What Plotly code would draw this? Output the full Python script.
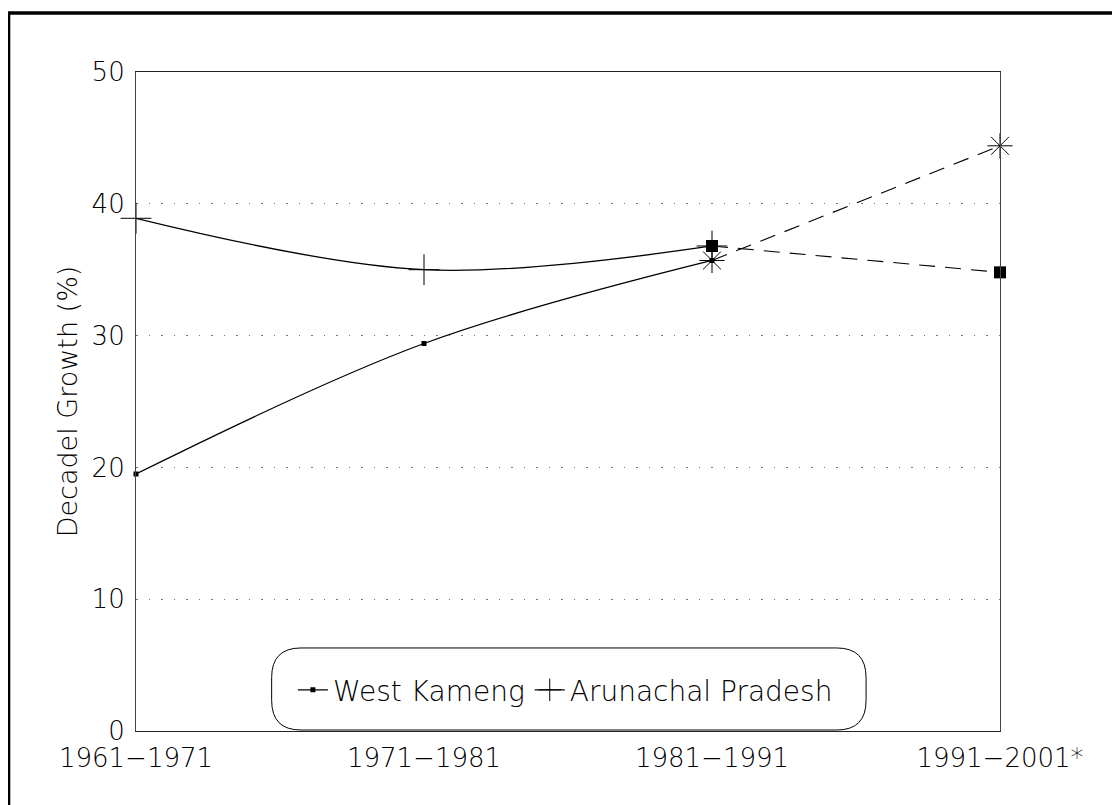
import plotly.graph_objects as go

periods = ["1961\u22121971", "1971\u22121981", "1981\u22121991", "1991\u22122001*"]
west_kameng = [19.5, 29.4, 35.7]
arunachal = [38.9, 35.0, 36.8]
west_kameng_proj = [35.7, 44.4]
arunachal_proj = [36.8, 34.8]
yticks = [0, 10, 20, 30, 40, 50]

FONT = "DejaVu Sans"
W = 200
TXT = "#000000"
fig = go.Figure()

fig.add_trace(go.Scatter(
    x=periods[2:], y=west_kameng_proj, mode="lines+markers", showlegend=False, cliponaxis=False,
    line=dict(color="black", width=1.1, dash="16px,10px"),
    marker=dict(symbol="asterisk-open", size=21, line=dict(color="black", width=1))))
fig.add_trace(go.Scatter(
    x=periods[2:], y=arunachal_proj, mode="lines+markers", showlegend=False, cliponaxis=False,
    line=dict(color="black", width=1.1, dash="16px,10px"),
    marker=dict(symbol="square", size=12, color="black")))
fig.add_trace(go.Scatter(
    x=periods[:3], y=west_kameng, mode="lines+markers", name="West Kameng", cliponaxis=False,
    line=dict(color="black", width=1.3, shape="spline", smoothing=1),
    marker=dict(symbol="square", size=5, color="black")))
fig.add_trace(go.Scatter(
    x=periods[:3], y=arunachal, mode="lines+markers", name="Arunachal Pradesh", cliponaxis=False,
    line=dict(color="black", width=1.3, shape="spline", smoothing=1),
    marker=dict(symbol="cross-thin-open", size=22, line=dict(color="black", width=1))))

# rounded legend box (paper coords)
x0, x1, y0, y1 = 0.157, 0.845, 0.0015, 0.126
rx, ry = 0.034, 0.045
path = (f"M {x0+rx},{y0} L {x1-rx},{y0} Q {x1},{y0} {x1},{y0+ry} "
        f"L {x1},{y1-ry} Q {x1},{y1} {x1-rx},{y1} L {x0+rx},{y1} "
        f"Q {x0},{y1} {x0},{y1-ry} L {x0},{y0+ry} Q {x0},{y0} {x0+rx},{y0} Z")
fig.add_shape(type="path", path=path, xref="paper", yref="paper",
              line=dict(color="black", width=1), fillcolor="white", layer="below")
# outer frame (top + left visible)
fig.add_shape(type="rect", xref="paper", yref="paper",
              x0=-0.1475, x1=1.5, y0=-0.5, y1=1.0895,
              line=dict(color="black", width=3.5), layer="below")

fig.update_layout(
    width=1120, height=805,
    margin=dict(l=128, r=128, t=64, b=82),
    paper_bgcolor="white", plot_bgcolor="rgba(0,0,0,0)",
    font=dict(family=FONT, color=TXT, weight=W),
    legend=dict(orientation="h", x=0.497, y=0.062, xanchor="center", yanchor="middle",
                font=dict(size=28, family=FONT, color=TXT, weight=W), bgcolor="rgba(0,0,0,0)",
                itemwidth=30, tracegroupgap=0),
    xaxis=dict(type="category", categoryorder="array", categoryarray=periods,
               range=[0, 3], showgrid=False, showline=True, linecolor="#222", linewidth=1.2,
               mirror=True, ticks="", tickfont=dict(size=26, family=FONT, color=TXT, weight=W),
               ticklabelstandoff=4, zeroline=False),
    yaxis=dict(range=[0, 50], tickvals=yticks, showline=True, linecolor="#444",
               linewidth=1.2, mirror=True, ticks="", ticklabelstandoff=5,
               tickfont=dict(size=26, family=FONT, color=TXT, weight=W),
               showgrid=True, gridcolor="#777", griddash="1.5px,11px", gridwidth=1.2,
               zeroline=False,
               title=dict(text="Decadel Growth (%)", standoff=6,
                          font=dict(size=27, family=FONT, color=TXT, weight=W))),
)

fig.write_html("out.html")
